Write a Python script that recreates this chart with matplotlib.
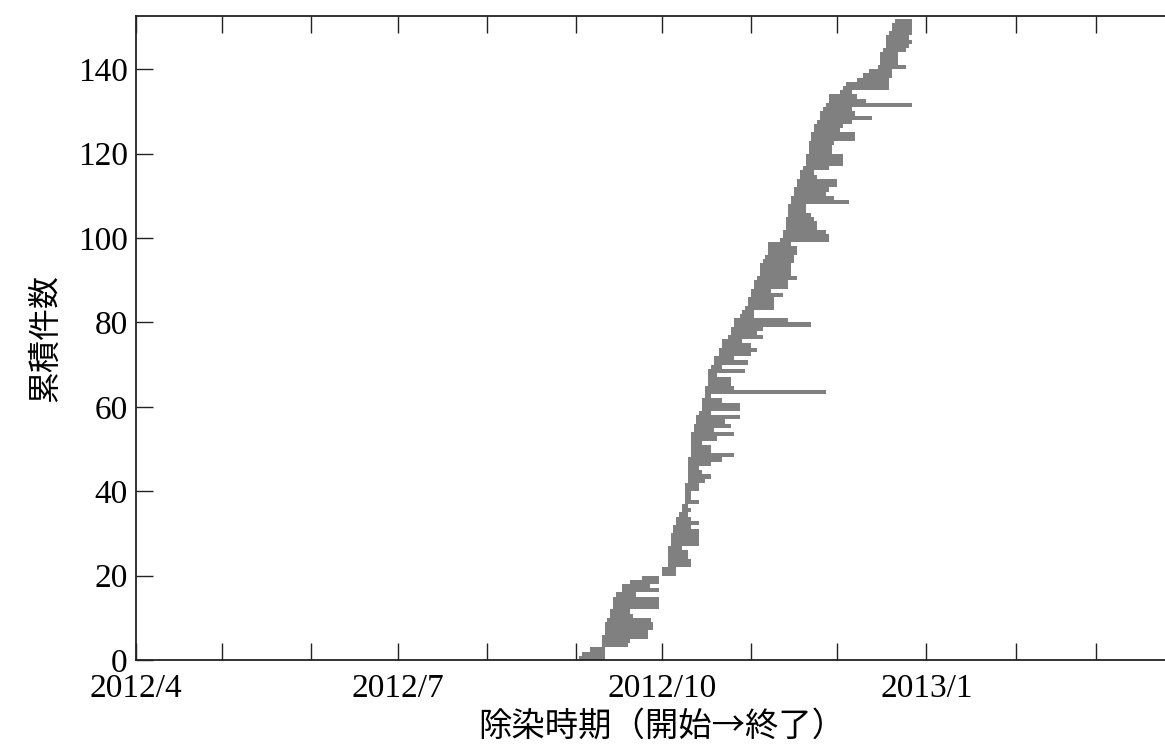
import datetime

import matplotlib
matplotlib.use("Agg")
import matplotlib.pyplot as plt
import matplotlib.dates as mdates
from matplotlib.ticker import FuncFormatter

# start / end dates of each decontamination job (one bar per job, cumulative count on y)
starts = [
    "2012-09-02", "2012-09-03", "2012-09-06", "2012-09-10", "2012-09-10",
    "2012-09-10", "2012-09-11", "2012-09-11", "2012-09-11", "2012-09-12",
    "2012-09-13", "2012-09-13", "2012-09-14", "2012-09-14", "2012-09-14",
    "2012-09-15", "2012-09-17", "2012-09-17", "2012-09-20", "2012-09-24",
    "2012-10-01", "2012-10-01", "2012-10-03", "2012-10-03", "2012-10-03",
    "2012-10-03", "2012-10-03", "2012-10-04", "2012-10-04", "2012-10-04",
    "2012-10-05", "2012-10-05", "2012-10-06", "2012-10-06", "2012-10-07",
    "2012-10-08", "2012-10-08", "2012-10-09", "2012-10-09", "2012-10-09",
    "2012-10-09", "2012-10-09", "2012-10-10", "2012-10-10", "2012-10-10",
    "2012-10-10", "2012-10-10", "2012-10-10", "2012-10-11", "2012-10-11",
    "2012-10-11", "2012-10-11", "2012-10-11", "2012-10-11", "2012-10-12",
    "2012-10-12", "2012-10-13", "2012-10-13", "2012-10-14", "2012-10-15",
    "2012-10-15", "2012-10-15", "2012-10-16", "2012-10-16", "2012-10-16",
    "2012-10-17", "2012-10-17", "2012-10-17", "2012-10-17", "2012-10-18",
    "2012-10-19", "2012-10-19", "2012-10-21", "2012-10-21", "2012-10-22",
    "2012-10-22", "2012-10-24", "2012-10-25", "2012-10-25", "2012-10-26",
    "2012-10-26", "2012-10-28", "2012-10-29", "2012-10-30", "2012-10-31",
    "2012-10-31", "2012-11-01", "2012-11-01", "2012-11-02", "2012-11-02",
    "2012-11-03", "2012-11-04", "2012-11-04", "2012-11-04", "2012-11-05",
    "2012-11-06", "2012-11-07", "2012-11-07", "2012-11-07", "2012-11-11",
    "2012-11-12", "2012-11-12", "2012-11-13", "2012-11-13", "2012-11-13",
    "2012-11-14", "2012-11-14", "2012-11-14", "2012-11-15", "2012-11-15",
    "2012-11-16", "2012-11-16", "2012-11-17", "2012-11-17", "2012-11-18",
    "2012-11-18", "2012-11-19", "2012-11-20", "2012-11-20", "2012-11-20",
    "2012-11-21", "2012-11-21", "2012-11-21", "2012-11-22", "2012-11-22",
    "2012-11-23", "2012-11-23", "2012-11-24", "2012-11-25", "2012-11-25",
    "2012-11-26", "2012-11-27", "2012-11-28", "2012-11-28", "2012-12-02",
    "2012-12-03", "2012-12-04", "2012-12-08", "2012-12-10", "2012-12-12",
    "2012-12-15", "2012-12-16", "2012-12-16", "2012-12-16", "2012-12-17",
    "2012-12-18", "2012-12-18", "2012-12-18", "2012-12-19", "2012-12-20",
    "2012-12-20", "2012-12-21",
]
ends = [
    "2012-09-11", "2012-09-11", "2012-09-11", "2012-09-19", "2012-09-20",
    "2012-09-26", "2012-09-26", "2012-09-28", "2012-09-28", "2012-09-27",
    "2012-09-21", "2012-09-20", "2012-09-30", "2012-09-30", "2012-09-30",
    "2012-09-22", "2012-09-30", "2012-09-27", "2012-09-30", "2012-09-30",
    "2012-10-06", "2012-10-06", "2012-10-11", "2012-10-11", "2012-10-10",
    "2012-10-10", "2012-10-08", "2012-10-14", "2012-10-14", "2012-10-14",
    "2012-10-14", "2012-10-11", "2012-10-14", "2012-10-11", "2012-10-10",
    "2012-10-11", "2012-10-10", "2012-10-14", "2012-10-11", "2012-10-11",
    "2012-10-14", "2012-10-14", "2012-10-16", "2012-10-18", "2012-10-15",
    "2012-10-14", "2012-10-18", "2012-10-22", "2012-10-26", "2012-10-18",
    "2012-10-18", "2012-10-15", "2012-10-20", "2012-10-26", "2012-10-19",
    "2012-10-25", "2012-10-23", "2012-10-28", "2012-10-18", "2012-10-28",
    "2012-10-28", "2012-10-22", "2012-10-18", "2012-11-27", "2012-10-26",
    "2012-10-25", "2012-10-25", "2012-10-20", "2012-10-30", "2012-10-22",
    "2012-10-31", "2012-10-26", "2012-11-01", "2012-11-03", "2012-11-01",
    "2012-10-29", "2012-11-05", "2012-11-03", "2012-11-05", "2012-11-22",
    "2012-11-14", "2012-11-02", "2012-11-02", "2012-11-09", "2012-11-09",
    "2012-11-09", "2012-11-12", "2012-11-08", "2012-11-14", "2012-11-14",
    "2012-11-17", "2012-11-15", "2012-11-15", "2012-11-15", "2012-11-16",
    "2012-11-16", "2012-11-17", "2012-11-17", "2012-11-15", "2012-11-28",
    "2012-11-28", "2012-11-27", "2012-11-24", "2012-11-24", "2012-11-23",
    "2012-11-22", "2012-11-20", "2012-11-20", "2012-12-05", "2012-11-30",
    "2012-11-27", "2012-11-28", "2012-12-01", "2012-12-01", "2012-11-24",
    "2012-11-23", "2012-11-28", "2012-12-03", "2012-12-03", "2012-12-03",
    "2012-11-29", "2012-11-29", "2012-11-30", "2012-12-07", "2012-12-07",
    "2012-12-02", "2012-12-03", "2012-12-06", "2012-12-13", "2012-12-07",
    "2012-12-06", "2012-12-27", "2012-12-11", "2012-12-08", "2012-12-06",
    "2012-12-19", "2012-12-19", "2012-12-19", "2012-12-20", "2012-12-20",
    "2012-12-25", "2012-12-22", "2012-12-22", "2012-12-22", "2012-12-25",
    "2012-12-26", "2012-12-27", "2012-12-26", "2012-12-27", "2012-12-27",
    "2012-12-27", "2012-12-27",
]

x_label = "除染時期（開始→終了）"
y_label = "累積件数"
y_ticks = [0, 20, 40, 60, 80, 100, 120, 140]


def to_num(s):
    return mdates.date2num(datetime.datetime.strptime(s, "%Y-%m-%d"))


def main():
    left = [to_num(s) for s in starts]
    width = [to_num(e) - to_num(s) for s, e in zip(starts, ends)]
    rows = [i + 0.5 for i in range(len(starts))]

    fig = plt.figure(figsize=(11.65, 7.56), dpi=100)
    ax = fig.add_axes([136 / 1165, 96 / 756, 1029 / 1165, 644 / 756])

    ax.barh(rows, width, left=left, height=1.0, color="#808080",
            linewidth=0)

    ax.set_xlim(to_num("2012-04-01"), to_num("2013-03-25"))
    ax.set_ylim(0, 152.6)

    ax.xaxis.set_major_locator(mdates.MonthLocator(bymonth=[1, 4, 7, 10]))
    ax.xaxis.set_minor_locator(mdates.MonthLocator())
    ax.xaxis.set_major_formatter(FuncFormatter(
        lambda v, p: "%d/%d" % (mdates.num2date(v).year,
                                mdates.num2date(v).month)))
    ax.set_yticks(y_ticks)

    serif = ["Liberation Serif", "DejaVu Serif"]
    for lab in ax.get_xticklabels() + ax.get_yticklabels():
        lab.set_family(serif)
        lab.set_fontsize(24)
    for lab in ax.get_yticklabels():
        lab.set_verticalalignment("center_baseline")

    ax.tick_params(axis="x", which="both", direction="in", length=12,
                   width=1.0, top=True, color="#222222", pad=10)
    ax.tick_params(axis="y", which="both", direction="in", length=12,
                   width=1.0, right=False, color="#222222", pad=6)

    for sp in ax.spines.values():
        sp.set_linewidth(1.3)
        sp.set_color("#222222")
    ax.spines["right"].set_visible(False)

    jp = ["Noto Sans CJK JP", "DejaVu Sans"]
    ax.set_xlabel(x_label, family=jp, fontsize=24)
    ax.xaxis.set_label_coords(0.511, -0.076)
    ax.set_ylabel(y_label, family=jp, fontsize=23, labelpad=12)

    fig.savefig("out.png", dpi=100)


if __name__ == "__main__":
    main()
